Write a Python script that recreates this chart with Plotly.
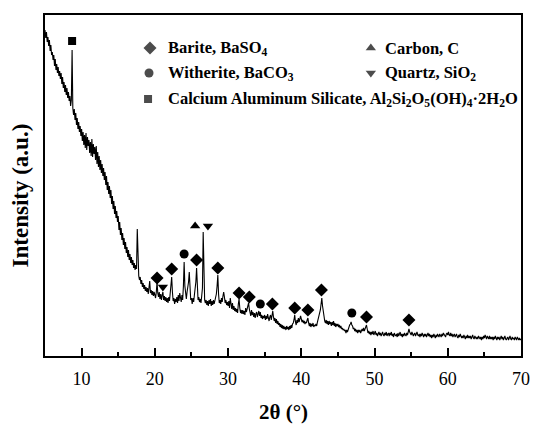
import numpy as np
import plotly.graph_objects as go

# ---------------- data ----------------
two_theta_start = 5.0
two_theta_step = 0.1
# intensity (a.u.), one row per degree: x = d.0 ... d.9
intensity = [
    326, 318, 324, 314, 319, 310, 316, 305, 311, 301,   # 5
    304, 296, 301, 290, 297, 286, 292, 283, 289, 280,   # 6
    285, 277, 283, 272, 279, 268, 274, 264, 271, 261,   # 7
    268, 258, 264, 255, 260, 250, 256, 306, 248, 241,   # 8
    247, 236, 243, 231, 238, 227, 234, 224, 230, 220,   # 9
    227, 215, 224, 211, 221, 208, 223, 206, 219, 210,   # 10
    216, 203, 214, 200, 217, 199, 212, 202, 209, 196,   # 11
    210, 192, 204, 189, 200, 186, 196, 183, 192, 180,   # 12
    188, 176, 184, 171, 180, 166, 174, 162, 170, 158,   # 13
    166, 152, 160, 147, 155, 142, 150, 138, 145, 134,   # 14
    140, 126, 134, 121, 128, 116, 123, 111, 118, 107,   # 15
    114, 103, 109, 99, 106, 96, 102, 93, 99, 91,        # 16
    96, 88, 93, 86, 91, 87, 127, 90, 80, 76,            # 17
    79, 72, 76, 69, 73, 67, 71, 65, 69, 64,             # 18
    68, 62, 67, 75, 63, 66, 61, 65, 60, 64,             # 19
    61, 58, 64, 74, 63, 59, 64, 57, 62, 56,             # 20
    61, 64, 56, 60, 55, 59, 54, 58, 53, 59,             # 21
    55, 62, 70, 79, 64, 55, 58, 52, 57, 54,             # 22
    59, 53, 61, 55, 63, 57, 54, 61, 56, 70,             # 23
    94, 70, 60, 57, 64, 68, 74, 84, 64, 56,             # 24
    58, 52, 58, 54, 61, 66, 74, 88, 66, 56,             # 25
    59, 54, 57, 53, 60, 68, 124, 70, 56, 53,            # 26
    56, 51, 55, 50, 56, 52, 57, 50, 55, 51,             # 27
    56, 52, 55, 58, 62, 70, 81, 62, 53, 56,             # 28
    52, 58, 54, 60, 64, 59, 53, 56, 51, 54,             # 29
    50, 55, 48, 58, 51, 47, 53, 46, 50, 45,             # 30
    48, 44, 47, 43, 52, 57, 48, 43, 46, 42,             # 31
    46, 42, 45, 41, 48, 44, 47, 50, 53, 47,             # 32
    44, 40, 46, 41, 44, 39, 43, 38, 42, 44,             # 33
    39, 42, 45, 40, 44, 38, 41, 37, 40, 38,             # 34
    41, 36, 40, 37, 42, 38, 35, 39, 41, 36,             # 35
    42, 45, 39, 35, 38, 33, 37, 32, 35, 31,             # 36
    33, 29, 32, 28, 31, 27, 30, 27, 29, 26,             # 37
    30, 27, 29, 26, 30, 27, 31, 28, 32, 33,             # 38
    36, 41, 34, 31, 36, 33, 38, 34, 37, 40,             # 39
    37, 34, 36, 33, 35, 32, 34, 33, 36, 38,             # 40
    33, 30, 33, 29, 32, 30, 33, 29, 31, 30,             # 41
    32, 30, 34, 37, 39, 42, 46, 52, 58, 50,             # 42
    44, 38, 35, 33, 36, 32, 35, 31, 35, 32,             # 43
    34, 30, 34, 31, 35, 30, 33, 29, 32, 30,             # 44
    32, 29, 31, 28, 30, 27, 28, 26, 27, 25,             # 45
    26, 23, 26, 24, 27, 29, 31, 32, 34, 31,             # 46
    30, 27, 28, 25, 27, 24, 26, 23, 26, 24,             # 47
    26, 23, 25, 27, 25, 28, 25, 27, 30, 31,             # 48
    27, 23, 25, 22, 24, 21, 24, 22, 25, 21,             # 49
    23, 25, 21, 23, 20, 23, 24, 21, 23, 20,             # 50
    22, 24, 21, 20, 23, 21, 24, 20, 22, 23,             # 51
    20, 23, 21, 24, 20, 22, 19, 23, 21, 20,             # 52
    22, 19, 23, 20, 22, 24, 20, 22, 19, 22,             # 53
    20, 23, 21, 20, 23, 21, 24, 27, 24, 22,             # 54
    21, 24, 22, 20, 22, 23, 20, 22, 24, 21,             # 55
    20, 22, 19, 22, 20, 23, 20, 19, 22, 20,             # 56
    22, 19, 21, 23, 20, 22, 19, 21, 18, 21,             # 57
    19, 22, 20, 18, 21, 19, 22, 20, 19, 22,             # 58
    20, 19, 22, 20, 23, 21, 20, 19, 22, 23,             # 59
    21, 24, 21, 20, 23, 20, 22, 19, 21, 22,             # 60
    19, 21, 22, 19, 18, 21, 19, 22, 20, 18,             # 61
    20, 18, 21, 19, 17, 20, 18, 21, 18, 20,             # 62
    18, 20, 17, 19, 21, 18, 17, 20, 18, 17,             # 63
    19, 17, 20, 18, 17, 19, 16, 19, 17, 20,             # 64
    18, 21, 19, 17, 20, 18, 17, 20, 17, 19,             # 65
    17, 19, 16, 19, 17, 20, 17, 16, 19, 17,             # 66
    19, 16, 18, 20, 17, 19, 16, 18, 20, 17,             # 67
    16, 18, 19, 16, 18, 20, 17, 16, 19, 17,             # 68
    18, 16, 19, 17, 16, 19, 17, 16, 18, 16,             # 69
    17,                                                 # 70
]
two_theta = two_theta_start + two_theta_step * np.arange(len(intensity))

# phase markers (2theta, marker height)
barite_x = [20.3, 22.3, 25.7, 28.6, 31.5, 32.9, 36.05, 39.1, 40.9, 42.75, 48.9, 54.7]
barite_y = [78, 87, 96, 88, 63, 59, 52, 48, 46, 66, 39, 36]
witherite_x = [24.0, 34.4, 46.9]
witherite_y = [102, 52, 43]
carbon_x = [25.5]
carbon_y = [130]
quartz_x = [21.1, 27.25]
quartz_y = [69, 130]
kaolin_x = [8.7]
kaolin_y = [315]

legend_labels = [
    ("diamond", "Barite, BaSO<sub>4</sub>"),
    ("circle", "Witherite, BaCO<sub>3</sub>"),
    ("square", "Calcium Aluminum Silicate, Al<sub>2</sub>Si<sub>2</sub>O<sub>5</sub>(OH)<sub>4</sub>·2H<sub>2</sub>O"),
    ("triangle-up", "Carbon, C"),
    ("triangle-down", "Quartz, SiO<sub>2</sub>"),
]

x_ticks = [10, 20, 30, 40, 50, 60, 70]

# ---------------- figure ----------------
W, H = 540, 425
ML, MR, MT, MB = 45, 10, 15, 69
PW, PH = W - ML - MR, H - MT - MB
SERIF = "Liberation Serif"

fig = go.Figure()
fig.add_trace(go.Scatter(x=two_theta, y=intensity, mode="lines",
                         line=dict(color="black", width=1.1), showlegend=False, hoverinfo="skip"))

def add_marks(xs, ys, symbol, size=9):
    fig.add_trace(go.Scatter(x=xs, y=ys, mode="markers",
                             marker=dict(symbol=symbol, size=size, color="black", line=dict(width=0)),
                             showlegend=False, hoverinfo="skip"))

add_marks(barite_x, barite_y, "diamond", 10)
add_marks(witherite_x, witherite_y, "circle", 9)
add_marks(carbon_x, carbon_y, "triangle-up", 9)
add_marks(quartz_x, quartz_y, "triangle-down", 9)
add_marks(kaolin_x, kaolin_y, "square", 8)

# legend keys drawn on an overlay axis in paper-like units
def px2paper(px, py):
    return (px - ML) / PW, (H - MB - py) / PH

key_pos = [(152, 48), (151, 73), (150, 99), (377, 48), (377, 73)]
text_pos = [(168, 48), (168, 73), (168, 99), (389, 48), (389, 73)]
kx, ky = zip(*[px2paper(*p) for p in key_pos])
ksym = [s for s, _ in legend_labels]
ksize = [10, 9, 8, 9, 9]
fig.add_trace(go.Scatter(x=kx, y=ky, xaxis="x2", yaxis="y2", mode="markers",
                         marker=dict(symbol=ksym, size=ksize, color="black", line=dict(width=0)),
                         showlegend=False, hoverinfo="skip"))

annotations = []
for (sym, label), p in zip(legend_labels, text_pos):
    xp, yp = px2paper(*p)
    annotations.append(dict(x=xp, y=yp, xref="paper", yref="paper", text="<b>" + label + "</b>",
                            showarrow=False, xanchor="left", yanchor="middle",
                            font=dict(family=SERIF, size=16.5, color="black")))

# axis titles
annotations.append(dict(x=0.5, y=(H - MB - 412) / PH, xref="paper", yref="paper",
                        text="<b>2θ (°)</b>", showarrow=False, xanchor="center", yanchor="middle",
                        font=dict(family=SERIF, size=21, color="black")))
annotations.append(dict(x=-25 / PW, y=(H - MB - 195) / PH, xref="paper", yref="paper",
                        text="<b>Intensity (a.u.)</b>", showarrow=False, textangle=-90,
                        xanchor="center", yanchor="middle",
                        font=dict(family=SERIF, size=23, color="black")))

fig.update_layout(
    width=W, height=H,
    margin=dict(l=ML, r=MR, t=MT, b=MB),
    paper_bgcolor="white", plot_bgcolor="white",
    showlegend=False,
    font=dict(family=SERIF, color="black"),
    annotations=annotations,
    xaxis=dict(range=[5, 70], tickvals=x_ticks, ticktext=[str(v) for v in x_ticks],
               ticks="inside", ticklen=8, tickwidth=1.5, tickcolor="black",
               minor=dict(ticks="inside", ticklen=4, tickwidth=1.5, tickcolor="black",
                          tickvals=[15, 25, 35, 45, 55, 65]),
               showline=True, linecolor="black", linewidth=1.5, mirror=True,
               showgrid=False, zeroline=False, ticklabelstandoff=6,
               tickfont=dict(family=SERIF, size=18, color="black")),
    yaxis=dict(range=[0, PH], showticklabels=False, ticks="",
               showline=True, linecolor="black", linewidth=1.5, mirror=True,
               showgrid=False, zeroline=False),
    xaxis2=dict(range=[0, 1], overlaying="x", visible=False, fixedrange=True),
    yaxis2=dict(range=[0, 1], overlaying="y", visible=False, fixedrange=True),
)

fig.write_html("out.html")
